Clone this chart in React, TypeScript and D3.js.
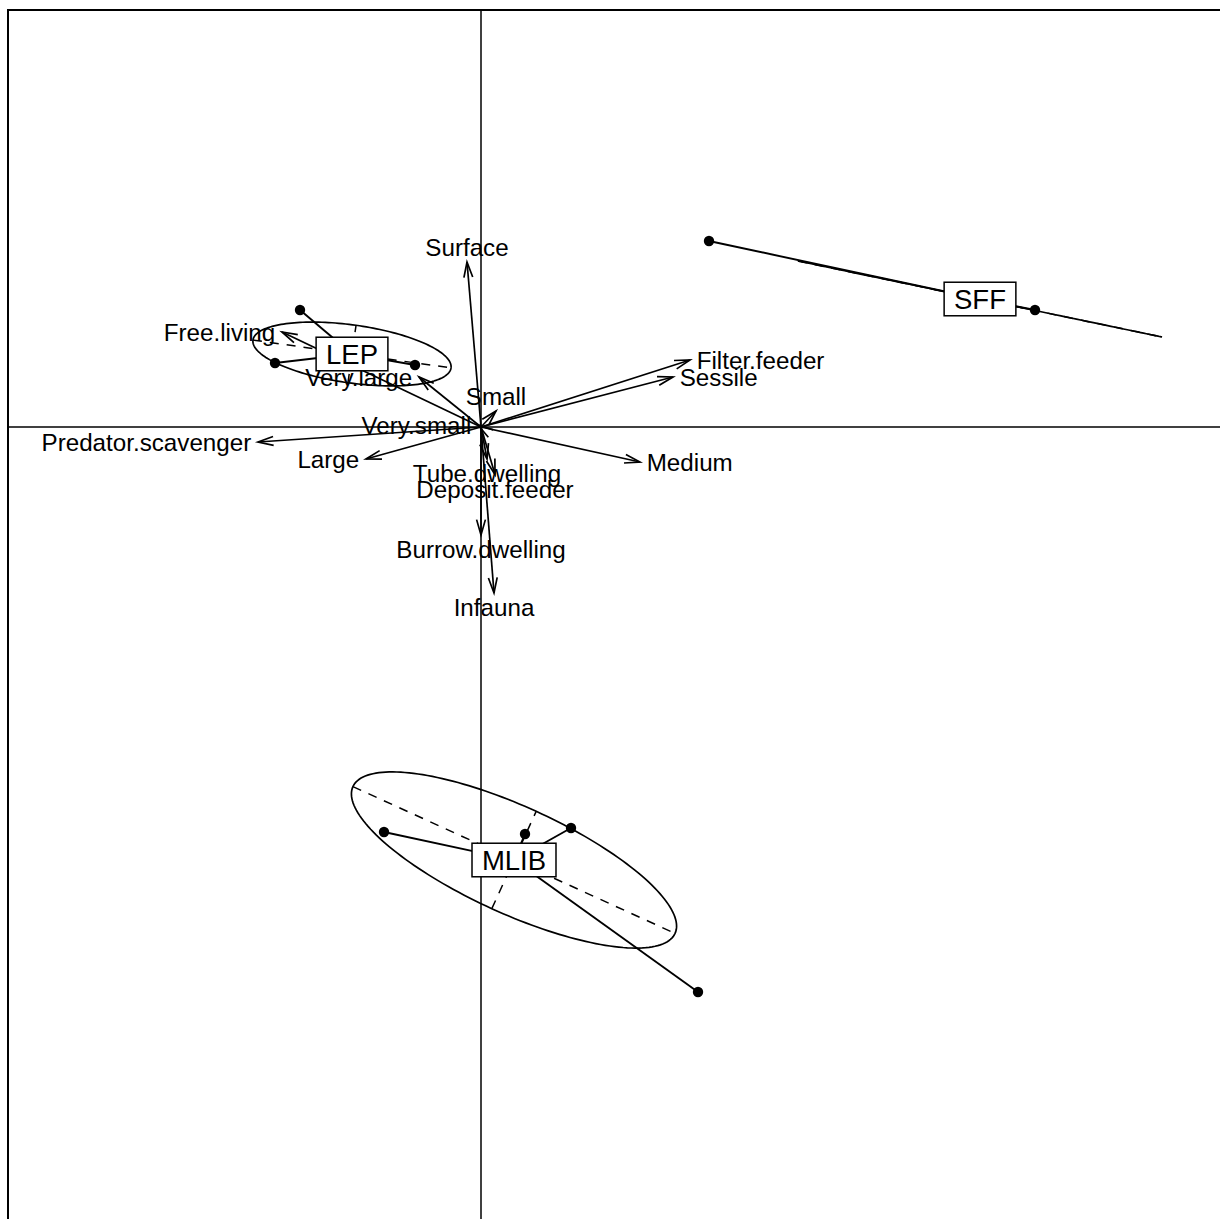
import { useMemo } from "react";
import * as d3 from "d3";

const W = 1220;
const H = 1219;
const FONT = "'Liberation Sans', Arial, Helvetica, sans-serif";
const LABEL_FS = 24.2;
const CLASS_FS = 27.5;

// variable arrows (tips, in axis units)
const VAR_NAMES = [
  "Surface",
  "Small",
  "Very.small",
  "Very.large",
  "Free.living",
  "Predator.scavenger",
  "Large",
  "Filter.feeder",
  "Sessile",
  "Medium",
  "Tube.dwelling",
  "Deposit.feeder",
  "Burrow.dwelling",
  "Infauna",
];
const VAR_X = [-0.14, 0.15, -0.03, -0.62, -1.99, -2.23, -1.15, 2.09, 1.92, 1.59, 0.06, 0.14, 0.0, 0.13];
const VAR_Y = [1.65, 0.16, 0.02, 0.5, 0.95, -0.15, -0.32, 0.67, 0.5, -0.35, -0.32, -0.475, -1.08, -1.66];

// classes
const CLASS_NAMES = ["LEP", "SFF", "MLIB"];
const CLASS_X = [-1.29, 4.99, 0.33];
const CLASS_Y = [0.73, 1.28, -4.33];
const ELL_A = [1.0, 1.86, 1.77];
const ELL_B = [0.29, 0.0, 0.535];
const ELL_ANGLE = [-8, -11.8, -24.5];

// sites
const SITE_CLASS = ["LEP", "LEP", "LEP", "SFF", "SFF", "MLIB", "MLIB", "MLIB", "MLIB"];
const SITE_X = [-1.81, -2.06, -0.66, 2.28, 5.54, -0.97, 0.44, 0.9, 2.17];
const SITE_Y = [1.17, 0.64, 0.62, 1.86, 1.17, -4.05, -4.07, -4.01, -5.65];

const measure = (() => {
  const ctx = document.createElement("canvas").getContext("2d");
  return (s: string, fs: number) => {
    if (!ctx) return s.length * fs * 0.55;
    ctx.font = `${fs}px ${FONT}`;
    return ctx.measureText(s).width;
  };
})();

export default function App() {
  const x = useMemo(() => d3.scaleLinear().domain([-4.73, 7.39]).range([8, 1220]), []);
  const y = useMemo(() => d3.scaleLinear().domain([4.17, -7.92]).range([10, 1219]), []);

  const x0 = x(-4.73);
  const x1 = x(7.7);
  const y0 = y(4.17);
  const y1 = y(-8.3);

  const line = d3.line<[number, number]>().x((d) => x(d[0])).y((d) => y(d[1]));

  const arrows = VAR_NAMES.map((name, i) => {
    const ox = x(0);
    const oy = y(0);
    const tx = x(VAR_X[i]);
    const ty = y(VAR_Y[i]);
    const th = Math.atan2(ty - oy, tx - ox);
    const len = 16;
    const phi = (16 * Math.PI) / 180;
    const b1x = tx - len * Math.cos(th - phi);
    const b1y = ty - len * Math.sin(th - phi);
    const b2x = tx - len * Math.cos(th + phi);
    const b2y = ty - len * Math.sin(th + phi);
    // label placement like ade4 scatterutil.eti.circ
    const vx = VAR_X[i];
    const vy = VAR_Y[i];
    const w = measure(" " + name + " ", LABEL_FS);
    const yh = LABEL_FS * 0.6;
    let lx = tx;
    let ly = ty;
    if (vx > vy && vx > -vy) lx = tx + w / 2;
    else if (vx > vy && vx <= -vy) ly = ty + yh;
    else if (vx <= vy && vx <= -vy) lx = tx - w / 2;
    else ly = ty - yh;
    return (
      <g key={name}>
        <line x1={ox} y1={oy} x2={tx} y2={ty} stroke="#000" strokeWidth={1.7} />
        <polyline
          points={`${b1x},${b1y} ${tx},${ty} ${b2x},${b2y}`}
          fill="none"
          stroke="#000"
          strokeWidth={1.7}
        />
        <text
          x={lx}
          y={ly + LABEL_FS * 0.36}
          textAnchor="middle"
          fontSize={LABEL_FS}
          fontFamily={FONT}
          fill="#000"
        >
          {name}
        </text>
      </g>
    );
  });

  const ellipses = CLASS_NAMES.map((name, i) => {
    const cx = CLASS_X[i];
    const cy = CLASS_Y[i];
    const a = ELL_A[i];
    const b = ELL_B[i];
    const t = (ELL_ANGLE[i] * Math.PI) / 180;
    const pts: [number, number][] = d3.range(0, 361, 2).map((deg) => {
      const u = (deg * Math.PI) / 180;
      const ex = a * Math.cos(u);
      const ey = b * Math.sin(u);
      return [cx + ex * Math.cos(t) - ey * Math.sin(t), cy + ex * Math.sin(t) + ey * Math.cos(t)];
    });
    const major: [number, number][] = [
      [cx - a * Math.cos(t), cy - a * Math.sin(t)],
      [cx + a * Math.cos(t), cy + a * Math.sin(t)],
    ];
    const minor: [number, number][] = [
      [cx + b * Math.sin(t), cy - b * Math.cos(t)],
      [cx - b * Math.sin(t), cy + b * Math.cos(t)],
    ];
    return (
      <g key={name}>
        <path d={line(pts) ?? ""} fill="none" stroke="#000" strokeWidth={1.7} />
        <path d={line(major) ?? ""} fill="none" stroke="#000" strokeWidth={1.5} strokeDasharray="9,8" />
        {b > 0 && (
          <path d={line(minor) ?? ""} fill="none" stroke="#000" strokeWidth={1.5} strokeDasharray="9,8" />
        )}
      </g>
    );
  });

  const stars = SITE_CLASS.map((c, i) => {
    const k = CLASS_NAMES.indexOf(c);
    return (
      <line
        key={`s${i}`}
        x1={x(CLASS_X[k])}
        y1={y(CLASS_Y[k])}
        x2={x(SITE_X[i])}
        y2={y(SITE_Y[i])}
        stroke="#000"
        strokeWidth={1.9}
      />
    );
  });

  const points = SITE_X.map((sx, i) => (
    <circle key={`p${i}`} cx={x(sx)} cy={y(SITE_Y[i])} r={5.2} fill="#000" />
  ));

  const boxes = CLASS_NAMES.map((name, i) => {
    const cx = x(CLASS_X[i]);
    const cy = y(CLASS_Y[i]);
    const w = measure(name, CLASS_FS) + CLASS_FS * 0.72;
    const h = CLASS_FS * 1.22;
    return (
      <g key={`b${name}`}>
        <rect x={cx - w / 2} y={cy - h / 2} width={w} height={h} fill="#fff" stroke="#000" strokeWidth={1.5} />
        <text
          x={cx}
          y={cy + CLASS_FS * 0.36}
          textAnchor="middle"
          fontSize={CLASS_FS}
          fontFamily={FONT}
          fill="#000"
        >
          {name}
        </text>
      </g>
    );
  });

  return (
    <div style={{ position: "absolute", left: 0, top: 0, width: W, height: H, background: "#fff" }}>
      <svg width={W} height={H} viewBox={`0 0 ${W} ${H}`} style={{ display: "block" }}>
        <rect x={0} y={0} width={W} height={H} fill="#fff" />
        <line x1={x0} y1={y(0)} x2={x1} y2={y(0)} stroke="#000" strokeWidth={1.5} />
        <line x1={x(0)} y1={y0} x2={x(0)} y2={y1} stroke="#000" strokeWidth={1.5} />
        {arrows}
        {ellipses}
        {stars}
        {points}
        {boxes}
        <rect x={x0} y={y0} width={x1 - x0} height={y1 - y0} fill="none" stroke="#000" strokeWidth={2} />
      </svg>
    </div>
  );
}
